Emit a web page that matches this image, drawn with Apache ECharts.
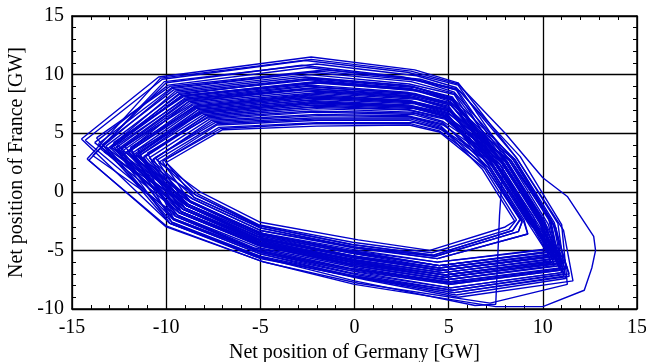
<!DOCTYPE html>
<html>
<head>
<meta charset="utf-8">
<script src="https://cdn.jsdelivr.net/npm/echarts@6/dist/echarts.min.js"></script>
<style>
  html, body { margin: 0; padding: 0; background: #fff; }
  #chart { width: 646px; height: 362px; }
</style>
</head>
<body>
<div id="chart"></div>
<script>
// axis ticks
const xTicks = [-15, -10, -5, 0, 5, 10, 15];
const yTicks = [-10, -5, 0, 5, 10, 15];

// daily loops [germany GW, france GW] (outer ones first)
const outerLoops = [
  [[-14.5,4.5],[-10.4,9.8],[-2.3,11.5],[3.2,10.4],[5.5,9.3],[8.6,2.9],[10.8,-2.7],[11.2,-7.4],[5.4,-8.8],[0.5,-7.4],[-5,-5.7],[-9.8,-2.7],[-14.5,4.5]],
  [[-14.3,4.4],[-10.2,9.6],[-2.6,11.2],[2.8,10.2],[5.5,9.1],[8.2,2.7],[10.3,-2.2],[10.9,-6.7],[5.1,-7.9],[-0.3,-6.7],[-5.2,-5],[-9.5,-2.1],[-14.3,4.4]],
  [[-14.1,2.7],[-10.1,9.4],[-2,10.9],[3.3,9.9],[5.4,8.9],[8.8,3],[11,-2.8],[11.3,-7.9],[7.2,-9.5],[0.2,-7.8],[-4.8,-6],[-10,-3],[-14.1,2.7]],
  [[-13.8,4.2],[-9.9,9.1],[-2.5,10.6],[2.7,9.7],[5.4,8.7],[7.8,2.5],[9.8,-2.3],[10.7,-5.9],[4.8,-7.1],[0.3,-6],[-5.1,-4.3],[-9.1,-1.5],[-13.8,4.2]],
  [[-13.6,4.1],[-9.7,8.9],[-1.9,10.3],[3.4,9.5],[5.3,8.5],[8.4,2.8],[10.5,-2.6],[11.4,-7],[5.2,-8.4],[-0.4,-7.1],[-5,-5.3],[-9.6,-2.4],[-13.6,4.1]],
  [[-13.4,4],[-9.6,8.7],[-2.4,10],[2.9,9.2],[5.3,8.3],[7.6,2.3],[9.5,-2.1],[10.3,-5.5],[4.6,-6.7],[0.4,-5.6],[-4.8,-4],[-8.9,-1.2],[-13.4,4]],
  [[-13.2,3.9],[-9.4,8.5],[-2.2,9.7],[3.1,9],[5.2,8],[8.5,2.8],[10.6,-2.9],[11.1,-7.2],[5.3,-8.6],[-0.2,-7.2],[-5.3,-5.5],[-9.7,-2.6],[-13.2,3.9]],
  [[-14.2,2.8],[-10.3,9.7],[-2.3,11.3],[3,10.3],[5.5,9.2],[8,5],[10,1.2],[11.3,-0.4],[12.7,-3.8],[12.8,-5],[12.6,-6.5],[12.2,-8.4],[10,-9.8],[7.5,-9.8],[0,-7.9],[-5,-5.9],[-10,-2.9],[-14.2,2.8]],
  [[-13.9,3.1],[-10,9.3],[-2.8,10.8],[2.6,9.8],[5.4,8.8],[8.1,2.6],[10.1,-2.9],[11.2,-6.6],[5.1,-7.8],[-0.5,-6.5],[-5.4,-4.9],[-9.4,-2],[-13.9,3.1]],
  [[-13.7,4.6],[-9.8,9],[-1.6,10.4],[3.5,9.6],[5.6,8.6],[8.6,2.9],[11.1,-3.3],[11.6,-7.6],[5.5,-9],[0.6,-7.5],[-4.7,-5.7],[-9.8,-2.7],[-13.7,4.6]],
  [[-13.3,3.4],[-9.5,8.6],[-2.6,9.8],[2.7,9.1],[5.2,8.1],[7.5,2.3],[9.4,-2.6],[10.5,-5.3],[4.5,-6.5],[-0.4,-5.4],[-5.2,-3.8],[-8.8,-1.1],[-13.3,3.4]],
  [[-13.5,3.7],[-9.7,8.8],[-2.3,10.2],[3,9.4],[5.3,8.4],[8,2.6],[10,-2.5],[10.8,-6.3],[4.9,-7.5],[-0.1,-6.3],[-5.1,-4.6],[-9.3,-1.8],[-13.5,3.7]],
  [[-12.8,3.9],[-9.1,8.2],[-2.2,9.3],[3,8.7],[5.2,7.8],[7.9,2.5],[7.7,-2],[7.5,-9.6],[6.4,-9.7],[0,-7.6],[-5,-5.6],[-9.8,-2.7],[-12.8,3.9]]
];

const middleLoops = [
  [[-13,3.8],[-9.3,8.3],[-2.7,9.6],[3,8.8],[5.2,7.9],[8,2.6],[10,-2.4],[11,-6.3],[4.9,-7.5],[0.1,-6.3],[-5,-4.6],[-9.3,-1.8],[-13,3.8]],
  [[-12.9,3.8],[-9.2,8.2],[-1.8,9.4],[3.3,8.7],[5.2,7.8],[7.4,2.2],[9.3,-2.6],[10.5,-5.1],[4.5,-6.3],[-0.3,-5.2],[-5.2,-3.6],[-8.7,-0.9],[-12.9,3.8]],
  [[-12.7,3.7],[-9,8],[-2.3,9.1],[2.8,8.5],[5.1,7.6],[8.3,2.7],[10.4,-2.3],[11,-6.9],[5.1,-8.2],[0.3,-6.9],[-4.9,-5.2],[-9.6,-2.3],[-12.7,3.7]],
  [[-12.6,3.6],[-8.9,7.9],[-2,8.9],[3.2,8.4],[5.1,7.5],[7.7,2.4],[9.6,-2.7],[10.6,-5.7],[4.7,-6.9],[-0.2,-5.8],[-5.1,-4.1],[-9,-1.4],[-12.6,3.6]],
  [[-12.4,3.6],[-8.8,7.7],[-2.5,8.8],[3,8.2],[5.1,7.4],[8.1,2.6],[10.1,-2.5],[10.9,-6.5],[5,-7.7],[0.2,-6.5],[-5,-4.8],[-9.4,-2],[-12.4,3.6]],
  [[-12.3,3.5],[-8.7,7.6],[-2.2,8.6],[2.9,8.1],[5,7.2],[7.2,2.1],[9,-2.4],[9.2,-3.6],[4.4,-5.7],[0,-4.8],[-5,-3.3],[-8.6,-0.6],[-12.3,3.5]],
  [[-12.1,3.4],[-8.6,7.4],[-1.9,8.4],[3.3,7.9],[5,7.1],[7.9,2.5],[9.9,-2.6],[10.4,-6.1],[4.8,-7.3],[-0.4,-6.1],[-5.2,-4.5],[-9.2,-1.7],[-12.1,3.4]],
  [[-12,3.4],[-8.5,7.3],[-2.3,8.2],[2.8,7.8],[5,7],[7.5,2.3],[9.4,-2.3],[10.9,-5.3],[4.5,-6.5],[0.4,-5.4],[-4.9,-3.8],[-8.8,-1.1],[-12,3.4]],
  [[-12.5,3.6],[-8.9,7.8],[-2.4,8.8],[3.1,8.3],[5.1,7.4],[7.9,2.5],[9.9,-2.4],[11.1,-6.1],[4.8,-7.3],[0.1,-6.1],[-5,-4.5],[-9.2,-1.7],[-12.5,3.6]],
  [[-12.9,3.8],[-9.2,8.2],[-2.1,9.4],[3,8.8],[5.2,7.8],[7.8,2.5],[9.8,-2.5],[10.7,-5.9],[4.8,-7.1],[-0.2,-6],[-5,-4.3],[-9.1,-1.5],[-12.9,3.8]],
  [[-12,3.4],[-8.5,7.3],[-2.1,8.3],[2.9,7.8],[5,7],[7.6,2.3],[9.5,-2.6],[10.8,-5.5],[4.6,-6.7],[-0.1,-5.6],[-4.9,-4],[-8.9,-1.2],[-12,3.4]],
  [[-12.8,4.2],[-9.1,8.1],[-1.7,9.3],[3.4,8.6],[5.1,7.7],[8.4,2.8],[10.7,-3.1],[11.1,-7],[5.2,-8.4],[0.2,-7.1],[-5,-5.3],[-9.6,-2.4],[-12.8,4.2]],
  [[-12.4,3],[-8.8,7.7],[-2.6,8.7],[2.7,8.2],[5,7.3],[7.4,2.2],[9.3,-2.5],[10.2,-5.1],[4.5,-6.3],[0.4,-5.2],[-4.9,-3.6],[-8.7,-0.9],[-12.4,3]],
  [[-12.2,3.9],[-8.6,7.5],[-1.8,8.5],[3.2,8],[5,7.1],[8.1,2.6],[10.2,-2.9],[11.3,-6.5],[5,-7.7],[-0.3,-6.5],[-5.3,-4.8],[-9.4,-2],[-12.2,3.9]],
  [[-11.9,3.5],[-8.4,7.2],[-2.4,8.1],[2.8,7.7],[4.9,6.9],[7.8,2.5],[9.8,-2.3],[10.4,-5.9],[4.8,-7.1],[-0.1,-6],[-5.1,-4.3],[-9.1,-1.5],[-11.9,3.5]],
  [[-12.6,4],[-9,7.9],[-2.4,9],[2.8,8.4],[5.1,7.5],[7.6,2.3],[9.5,-2.4],[10.6,-5.5],[4.6,-6.7],[-0.2,-5.6],[-5.1,-4],[-8.9,-1.2],[-12.6,4]],
  [[-13.1,3.5],[-9.3,8.4],[-2,9.6],[3.2,8.9],[5.2,7.9],[7.9,2.5],[9.9,-2.7],[10.8,-6.1],[4.8,-7.3],[0.3,-6.1],[-4.9,-4.5],[-9.2,-1.7],[-13.1,3.5]],
  [[-11.9,3.8],[-8.5,7.2],[-2,8.1],[3.1,7.7],[5,6.9],[8.5,2.8],[10.6,-2.6],[11.4,-7.2],[5.3,-8.6],[0.1,-7.2],[-5,-5.5],[-9.7,-2.6],[-11.9,3.8]]
];

const innerLoops = [
  [[-11.8,3.3],[-8.4,7.1],[-2.1,8],[3.1,7.6],[4.9,6.8],[8.2,2.7],[10.3,-2.8],[10.9,-6.7],[5.1,-7.9],[0.1,-6.7],[-5.1,-5],[-9.5,-2.1],[-11.8,3.3]],
  [[-11.7,3.2],[-8.3,7],[-2.4,7.8],[2.9,7.4],[4.9,6.7],[7,2],[8.8,-2.4],[8.4,-3.3],[4.2,-5.4],[-0.2,-4.5],[-5,-2.9],[-8.4,-0.3],[-11.7,3.2]],
  [[-11.5,3.2],[-8.2,6.8],[-1.9,7.6],[3,7.3],[4.9,6.5],[7.8,2.5],[9.8,-2.6],[11,-5.9],[4.8,-7.1],[0.3,-6],[-4.8,-4.3],[-9.1,-1.5],[-11.5,3.2]],
  [[-11.4,3.1],[-8,6.6],[-2.1,7.4],[3.2,7.1],[4.8,6.4],[7.3,2.2],[9.1,-2.3],[10.4,-4.9],[4.4,-6],[-0.3,-5],[-5.1,-3.5],[-8.7,-0.8],[-11.4,3.1]],
  [[-11.2,3],[-7.9,6.5],[-2.3,7.2],[2.8,7],[4.8,6.3],[8,2.6],[10,-2.7],[10.6,-6.3],[4.9,-7.5],[-0.1,-6.3],[-5,-4.6],[-9.3,-1.8],[-11.2,3]],
  [[-11.1,3],[-7.8,6.4],[-2,7.1],[3,6.8],[4.8,6.2],[7.6,2.3],[9.5,-2.5],[10.6,-5.5],[4.6,-6.7],[0.2,-5.6],[-5.2,-4],[-8.9,-1.2],[-11.1,3]],
  [[-10.9,2.9],[-7.7,6.2],[-2.2,6.8],[3.1,6.6],[4.7,5.9],[7.1,2.1],[8.9,-2.6],[8.7,-3.4],[4.3,-5.5],[0,-4.7],[-4.9,-3.1],[-8.5,-0.5],[-10.9,2.9]],
  [[-10.7,2.8],[-7.5,6],[-1.9,6.5],[2.9,6.4],[4.7,5.7],[7.7,2.4],[9.6,-2.4],[10.9,-5.7],[4.7,-6.9],[-0.2,-5.8],[-5,-4.1],[-9,-1.4],[-10.7,2.8]],
  [[-10.5,2.7],[-7.3,5.8],[-2.1,6.2],[3,6.2],[4.6,5.5],[6.8,1.9],[8.5,-2.5],[8,-3],[4,-5],[0.2,-4.1],[-5,-2.6],[-8.2,0],[-10.5,2.7]],
  [[-10.2,2.6],[-7.2,5.5],[-2,5.9],[3.2,5.9],[4.6,5.3],[7.4,2.2],[9.3,-2.7],[10.7,-5.1],[4.5,-6.3],[0,-5.2],[-4.8,-3.6],[-8.7,-0.9],[-10.2,2.6]],
  [[-10,2.5],[-7,5.3],[-2,5.6],[2.9,5.7],[4.5,5.1],[6.9,2],[8.6,-2.4],[8.2,-3.2],[4.1,-5.2],[-0.1,-4.3],[-5.1,-2.8],[-8.3,-0.2],[-10,2.5]],
  [[-11.6,3.2],[-8.2,6.9],[-2.2,7.7],[3.1,7.3],[4.9,6.6],[7.4,2.2],[9.3,-2.4],[10.3,-5.1],[4.5,-6.3],[0.2,-5.2],[-5,-3.6],[-8.7,-0.9],[-11.6,3.2]],
  [[-11.7,2.9],[-8.3,7],[-1.9,7.9],[3.2,7.5],[4.9,6.7],[7.2,2.1],[9,-2.6],[9.2,-3.6],[4.4,-5.7],[0.3,-4.8],[-5,-3.3],[-8.6,-0.6],[-11.7,2.9]],
  [[-11.5,3.6],[-8.1,6.7],[-2.2,7.5],[3,7.2],[4.8,6.5],[8.3,2.7],[10.4,-2.6],[11,-6.9],[5.1,-8.2],[-0.2,-6.9],[-4.9,-5.2],[-9.6,-2.3],[-11.5,3.6]],
  [[-11.3,2.8],[-7.9,6.5],[-1.8,7.3],[2.9,7],[4.8,6.3],[7.7,2.4],[9.6,-2.8],[10.5,-5.7],[4.7,-6.9],[0.1,-5.8],[-5.2,-4.1],[-9,-1.4],[-11.3,2.8]],
  [[-11,3.3],[-7.8,6.3],[-2.3,6.9],[3.2,6.7],[4.7,6],[7.9,2.5],[9.9,-2.5],[10.8,-6.1],[4.8,-7.3],[-0.3,-6.1],[-4.8,-4.5],[-9.2,-1.7],[-11,3.3]],
  [[-10.8,2.6],[-7.6,6.1],[-2,6.6],[2.8,6.5],[4.7,5.8],[7.3,2.2],[9.1,-2.4],[10.1,-4.9],[4.4,-6],[0.2,-5],[-5,-3.5],[-8.7,-0.8],[-10.8,2.6]],
  [[-10.6,2.9],[-7.4,5.9],[-2.3,6.3],[3.1,6.3],[4.6,5.6],[7,2],[8.8,-2.3],[8.4,-3.3],[4.2,-5.4],[-0.1,-4.5],[-5.1,-2.9],[-8.4,-0.3],[-10.6,2.9]],
  [[-10.4,2.5],[-7.3,5.7],[-1.9,6.1],[2.9,6.1],[4.6,5.4],[7.6,2.3],[9.5,-2.7],[10.6,-5.5],[4.6,-6.7],[0.3,-5.6],[-4.9,-4],[-8.9,-1.2],[-10.4,2.5]],
  [[-10.1,2.7],[-7.1,5.4],[-2.2,5.8],[3,5.8],[4.5,5.2],[7.1,2.1],[8.9,-2.5],[8.7,-3.4],[4.3,-5.5],[-0.2,-4.7],[-5,-3.1],[-8.5,-0.5],[-10.1,2.7]],
  [[-11.5,3],[-8.1,6.8],[-2.3,7.6],[2.9,7.2],[4.8,6.5],[7.5,2.3],[9.4,-2.5],[10.5,-5.3],[4.5,-6.5],[-0.3,-5.4],[-4.9,-3.8],[-8.8,-1.1],[-11.5,3]]
];

const FONT = 'Liberation Serif';
const loops = outerLoops.concat(middleLoops, innerLoops);

const chart = echarts.init(document.getElementById('chart'));

const tickStyle = { show: true, inside: true, length: 5, lineStyle: { color: '#000', width: 1 } };
const minor = { show: true, splitNumber: 5, length: 4, lineStyle: { color: '#000', width: 1 } };
const frameLine = { show: true, onZero: false, lineStyle: { color: '#000', width: 1.5 } };

chart.setOption({
  animation: false,
  backgroundColor: '#fff',
  grid: { left: 72, right: 9, top: 16, bottom: 53, outerBoundsMode: 'none' },
  xAxis: [
    {
      type: 'value', min: xTicks[0], max: xTicks[xTicks.length - 1], interval: 5,
      name: 'Net position of Germany [GW]', nameLocation: 'middle', nameGap: 32,
      nameTextStyle: { fontFamily: FONT, fontSize: 20, color: '#000' },
      axisLine: frameLine,
      axisTick: tickStyle, minorTick: minor,
      axisLabel: { fontFamily: FONT, fontSize: 20, color: '#000', margin: 9 },
      splitLine: { show: true, lineStyle: { color: '#000', width: 1.3 } }
    },
    {
      type: 'value', position: 'top', min: xTicks[0], max: xTicks[xTicks.length - 1], interval: 5,
      axisLine: frameLine,
      axisTick: tickStyle, minorTick: minor,
      axisLabel: { show: false }, splitLine: { show: false }
    }
  ],
  yAxis: [
    {
      type: 'value', min: yTicks[0], max: yTicks[yTicks.length - 1], interval: 5,
      name: 'Net position of France [GW]', nameLocation: 'middle', nameGap: 43,
      nameTextStyle: { fontFamily: FONT, fontSize: 20, color: '#000' },
      axisLine: frameLine,
      axisTick: tickStyle, minorTick: minor,
      axisLabel: { fontFamily: FONT, fontSize: 20, color: '#000', margin: 8 },
      splitLine: { show: true, lineStyle: { color: '#000', width: 1.3 } }
    },
    {
      type: 'value', position: 'right', min: yTicks[0], max: yTicks[yTicks.length - 1], interval: 5,
      axisLine: frameLine,
      axisTick: tickStyle, minorTick: minor,
      axisLabel: { show: false }, splitLine: { show: false }
    }
  ],
  series: loops.map(function (loop) {
    return {
      type: 'line',
      data: loop,
      showSymbol: false,
      silent: true,
      lineStyle: { color: '#0000cc', width: 1.4 }
    };
  })
});
</script>
</body>
</html>
